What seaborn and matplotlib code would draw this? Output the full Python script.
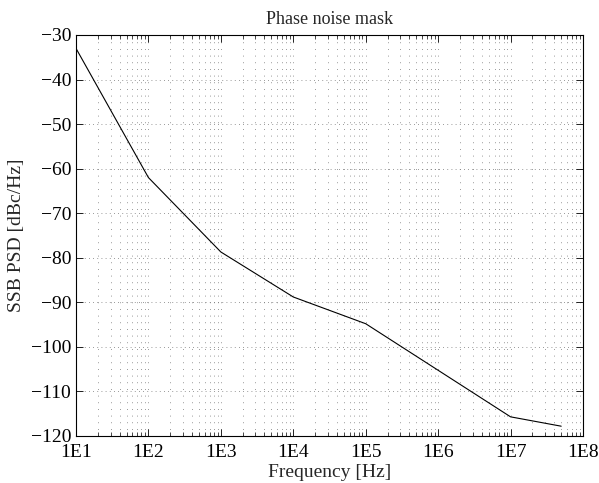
import matplotlib
matplotlib.use("Agg")
import matplotlib.pyplot as plt
import seaborn as sns
import pandas as pd
import numpy as np
from matplotlib.ticker import LogLocator, FixedLocator, FixedFormatter, NullFormatter

freq = [1e1, 1e2, 1e3, 1e4, 1e5, 1e7, 5e7]
psd = [-33, -62, -78.7, -88.8, -94.8, -115.7, -117.8]
xticks = [1e1, 1e2, 1e3, 1e4, 1e5, 1e6, 1e7, 1e8]
xticklabels = ["1E1", "1E2", "1E3", "1E4", "1E5", "1E6", "1E7", "1E8"]
yticks = [-120, -110, -100, -90, -80, -70, -60, -50, -40, -30]

sns.set_style("ticks")
plt.rcParams['font.family'] = ['Liberation Serif', 'DejaVu Serif']

fig = plt.figure(figsize=(5.99, 4.83), dpi=100)
ax = fig.add_axes([76/599, 1 - 436/483, (583-76)/599, (436-35)/483])

df = pd.DataFrame({"f": freq, "p": psd})
sns.lineplot(data=df, x="f", y="p", ax=ax, color="black", linewidth=0.8)
ax.set_xscale("log")
ax.set_xlim(1e1, 1e8)
ax.set_ylim(-120, -30)
ax.xaxis.set_major_locator(FixedLocator(xticks))
ax.xaxis.set_major_formatter(FixedFormatter(xticklabels))
ax.xaxis.set_minor_locator(LogLocator(base=10, subs=np.arange(2, 10)))
ax.xaxis.set_minor_formatter(NullFormatter())
ax.set_yticks(yticks)
ax.set_yticklabels([f"\u2212{abs(v)}" for v in yticks])

dot = (0, (1, 7))
ax.grid(True, which="major", axis="y", color="#777777", linestyle=(0, (1, 4)), linewidth=0.6)
ax.grid(True, which="both", axis="x", color="#777777", linestyle=dot, linewidth=0.6)

for s in ax.spines.values():
    s.set_visible(True)
    s.set_linewidth(0.8)
    s.set_color("black")
ax.tick_params(which="both", direction="in", top=True, right=True, labelsize=14, colors="black")
ax.tick_params(which="major", length=5, width=0.6)
ax.tick_params(which="minor", length=3, width=0.5)
ax.tick_params(axis="x", pad=6)

ax.set_xlabel("Frequency [Hz]", fontsize=14, labelpad=2)
ax.set_ylabel("SSB PSD [dBc/Hz]", fontsize=14, labelpad=4)
ax.set_title("Phase noise mask", fontsize=13, pad=8)

fig.savefig("out.png", dpi=100, facecolor="white")
